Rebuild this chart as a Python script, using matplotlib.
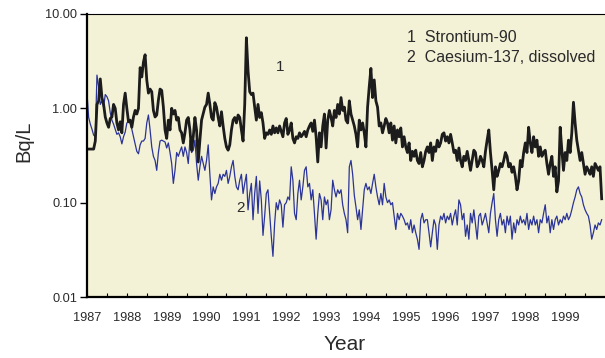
import numpy as np
import matplotlib.pyplot as plt
from matplotlib.ticker import FixedLocator, FixedFormatter, NullLocator

# semi-monthly samples starting Jan 1987 (Bq/L)
strontium_90 = [
    0.37, 0.37, 0.37, 0.37, 0.37, 0.45, 1.1, 1.2, 2.05, 1.3,
    1.1, 0.81, 0.7, 0.63, 0.78, 0.81, 1.1, 1.0, 0.7, 0.59,
    0.72, 0.55, 1.1, 1.45, 1.0, 0.72, 0.75, 0.63, 0.81, 0.95,
    0.87, 1.0, 2.7, 2.15, 3.1, 3.7, 2.0, 1.45, 1.6, 1.5,
    0.95, 0.81, 0.85, 1.22, 1.6, 1.55, 1.03, 0.59, 0.48,
    # 1989
    0.75, 0.59, 1.0, 0.87, 0.95, 0.75, 0.8, 0.59, 0.55, 0.43,
    0.55, 0.75, 0.8, 0.59, 0.36, 0.5, 0.8, 0.59, 0.27, 0.46,
    0.75, 0.88, 1.03, 1.1, 1.45, 1.1, 0.8, 0.75, 1.15, 1.03,
    0.8, 0.65, 0.92, 0.65, 0.48, 0.39, 0.36, 0.41, 0.59, 0.75,
    0.8, 0.7, 0.85, 0.8, 0.59, 0.45, 1.1, 5.6, 2.5, 1.5,
    1.4, 1.45,
    # 1991
    1.03, 0.75, 1.1, 0.8, 0.9, 0.7, 0.48, 0.55, 0.53, 0.59,
    0.53, 0.65, 0.55, 0.62, 0.55, 0.65, 0.57, 0.5, 0.7, 0.78,
    0.53, 0.59, 0.7, 0.48, 0.43, 0.5, 0.48, 0.55, 0.5, 0.53,
    0.57, 0.5, 0.59, 0.65, 0.7, 0.57, 0.75, 0.5, 0.27, 0.55,
    0.39, 0.65, 0.87, 0.38, 0.75, 0.95, 0.8, 0.65, 0.95, 0.8,
    1.1, 0.87,
    # 1993
    1.3, 0.95, 1.03, 0.75, 0.7, 1.2, 0.87, 0.75, 0.65, 0.53,
    0.39, 0.75, 0.59, 0.7, 0.55, 0.39, 1.03, 1.7, 2.65, 1.3,
    2.0, 1.2, 1.03, 0.65, 0.7, 0.55, 0.65, 0.78, 0.7, 0.55,
    0.7, 0.46, 0.65, 0.43, 0.59, 0.5, 0.62, 0.39, 0.5, 0.39,
    0.34, 0.43, 0.28, 0.35, 0.31, 0.36, 0.28, 0.26, 0.34, 0.24,
    0.28, 0.35,
    # 1995
    0.39, 0.34, 0.43, 0.28, 0.39, 0.35, 0.46, 0.39, 0.43, 0.53,
    0.55, 0.45, 0.5, 0.43, 0.53, 0.43, 0.34, 0.36, 0.28, 0.38,
    0.28, 0.24, 0.31, 0.28, 0.35, 0.28, 0.22, 0.28, 0.36, 0.34,
    0.24, 0.26, 0.31, 0.28, 0.24, 0.35, 0.46, 0.59, 0.34, 0.22,
    0.137, 0.24, 0.19, 0.22, 0.26, 0.24, 0.28, 0.34, 0.31, 0.24,
    0.26, 0.21,
    # 1997
    0.24, 0.19, 0.137, 0.17, 0.28, 0.24, 0.34, 0.43, 0.34, 0.63,
    0.43, 0.34, 0.5, 0.39, 0.46, 0.31, 0.39, 0.31, 0.34, 0.36,
    0.26, 0.2, 0.26, 0.31, 0.19, 0.24, 0.13, 0.17, 0.63, 0.36,
    0.22, 0.34, 0.28, 0.46, 0.34, 0.55, 1.16, 0.7, 0.46, 0.36,
    0.28, 0.34, 0.26, 0.2, 0.24, 0.22, 0.2, 0.24, 0.19, 0.26,
    0.24, 0.22, 0.24, 0.11,
]

caesium_137 = [
    1.45, 0.8, 0.68, 0.6, 0.52, 0.5, 2.25, 1.7, 1.1, 1.2,
    1.03, 1.4, 1.33, 1.2, 0.9, 0.75, 0.68, 0.6, 0.53, 0.55,
    0.5, 0.42, 0.5, 0.56, 0.7, 0.72, 0.7, 0.6, 0.5, 0.42,
    0.35, 0.33, 0.41, 0.45, 0.45, 0.48, 0.7, 0.85, 0.59, 0.39,
    0.31, 0.28, 0.22, 0.34, 0.45, 0.46, 0.45, 0.44, 0.38,
    # 1989
    0.43, 0.34, 0.26, 0.16, 0.22, 0.34, 0.31, 0.35, 0.39, 0.31,
    0.39, 0.34, 0.26, 0.46, 0.34, 0.36, 0.46, 0.26, 0.173, 0.24,
    0.31, 0.26, 0.22, 0.28, 0.41, 0.2, 0.107, 0.147, 0.125, 0.147,
    0.16, 0.2, 0.173, 0.2, 0.19, 0.22, 0.16, 0.19, 0.24, 0.28,
    0.19, 0.147, 0.137, 0.173, 0.2, 0.125, 0.16, 0.2, 0.084, 0.125,
    0.16, 0.066,
    # 1991
    0.125, 0.19, 0.077, 0.17, 0.107, 0.045, 0.072, 0.125, 0.137, 0.077,
    0.044, 0.027, 0.06, 0.1, 0.084, 0.107, 0.095, 0.055, 0.095, 0.1,
    0.115, 0.107, 0.24, 0.173, 0.077, 0.066, 0.125, 0.173, 0.107, 0.147,
    0.22, 0.24, 0.147, 0.16, 0.107, 0.137, 0.077, 0.041, 0.077, 0.125,
    0.107, 0.066, 0.115, 0.095, 0.107, 0.066, 0.084, 0.173, 0.137, 0.115,
    0.137, 0.125,
    # 1993
    0.137, 0.095, 0.077, 0.066, 0.048, 0.24, 0.28, 0.2, 0.12, 0.09,
    0.066, 0.084, 0.052, 0.084, 0.137, 0.16, 0.137, 0.147, 0.125, 0.16,
    0.2, 0.147, 0.115, 0.095, 0.125, 0.095, 0.16, 0.115, 0.1, 0.107,
    0.095, 0.1, 0.072, 0.052, 0.077, 0.066, 0.077, 0.072, 0.066, 0.058,
    0.061, 0.052, 0.066, 0.048, 0.058, 0.048, 0.041, 0.032, 0.066, 0.077,
    0.061, 0.066,
    # 1995
    0.066, 0.048, 0.034, 0.048, 0.066, 0.058, 0.032, 0.058, 0.072, 0.066,
    0.077, 0.061, 0.072, 0.066, 0.077, 0.058, 0.072, 0.084, 0.058, 0.107,
    0.095, 0.066, 0.077, 0.044, 0.058, 0.041, 0.077, 0.061, 0.084, 0.058,
    0.041, 0.072, 0.077, 0.058, 0.066, 0.077, 0.061, 0.048, 0.077, 0.1,
    0.125, 0.066, 0.044, 0.066, 0.077, 0.058, 0.066, 0.048, 0.072, 0.058,
    0.072, 0.041,
    # 1997
    0.061, 0.048, 0.066, 0.058, 0.072, 0.061, 0.066, 0.058, 0.077, 0.052,
    0.066, 0.058, 0.072, 0.058, 0.066, 0.048, 0.066, 0.061, 0.077, 0.095,
    0.061, 0.072, 0.048, 0.066, 0.052, 0.066, 0.072, 0.058, 0.066, 0.061,
    0.072, 0.066, 0.077, 0.066, 0.072, 0.084, 0.1, 0.115, 0.137, 0.147,
    0.125, 0.115, 0.095, 0.084, 0.077, 0.072, 0.058, 0.041, 0.048, 0.058,
    0.052, 0.061, 0.058, 0.066,
]

year_ticks = list(range(1987, 2000))
y_ticks = [0.01, 0.1, 1.0, 10.0]
y_labels = ["0.01", "0.10", "1.00", "10.00"]

t_sr = 1987 + np.arange(len(strontium_90)) / 24
t_cs = 1987 + np.arange(len(caesium_137)) / 24

plt.rcParams["font.family"] = ["Liberation Sans", "DejaVu Sans"]
txt = "#2a2a2a"

fig = plt.figure(figsize=(6.05, 3.58), dpi=100)
ax = fig.add_axes([87 / 605, 61 / 358, 518 / 605, 283 / 358])
ax.set_facecolor("#f3f1d6")

ax.plot(t_cs, caesium_137, color="#2b3498", lw=0.9)
ax.plot(t_sr, strontium_90, color="#1c1c1c", lw=2.0)

ax.set_yscale("log")
ax.set_ylim(0.01, 10)
ax.set_xlim(1987, 2000)

ax.yaxis.set_major_locator(FixedLocator(y_ticks))
ax.yaxis.set_major_formatter(FixedFormatter(y_labels))
ax.yaxis.set_minor_locator(NullLocator())
ax.tick_params(axis="y", direction="out", length=5, width=1, labelsize=9.2,
               pad=2, labelcolor=txt)

ax.set_xticks(year_ticks)
ax.set_xticklabels([str(y) for y in year_ticks])
ax.set_xticks(np.arange(1987.5, 2000, 1), minor=True)
ax.tick_params(axis="x", which="both", direction="in", length=3, width=0.8,
               labelsize=9.2, pad=11, labelcolor=txt)

for side in ["left", "bottom"]:
    ax.spines[side].set_linewidth(1.6)
ax.spines["top"].set_linewidth(0.8)
ax.spines["right"].set_visible(False)

ax.text(1991.85, 2.75, "1", fontsize=11, color=txt, ha="center", va="center")
ax.text(1990.85, 0.088, "2", fontsize=11, color=txt, ha="center", va="center")
ax.text(1995.03, 5.57, "1  Strontium-90", fontsize=11.5, color=txt, va="center")
ax.text(1995.03, 3.5, "2  Caesium-137, dissolved", fontsize=11.5, color=txt, va="center")

fig.text(24 / 605, 1 - 141 / 358, "Bq/L", fontsize=14.5, color=txt,
         rotation=90, ha="center", va="center")
fig.text(345 / 605, 1 - 345 / 358, "Year", fontsize=15, color=txt,
         ha="center", va="center")

fig.savefig("out.png", dpi=100)
